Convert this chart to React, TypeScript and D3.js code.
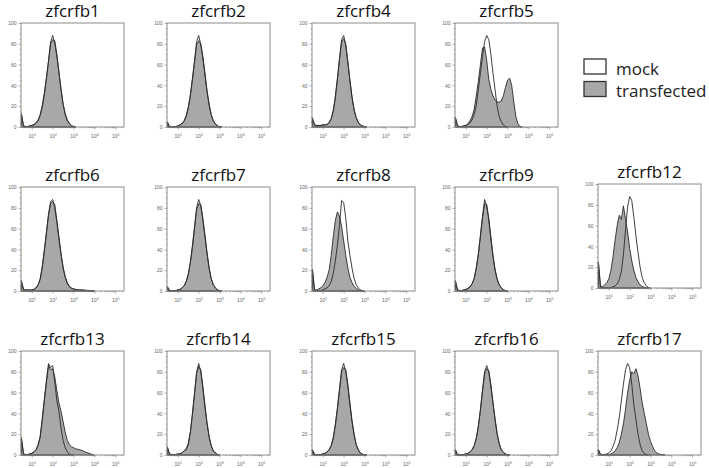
import React, { useEffect, useRef } from "react";
import * as d3 from "d3";

// histogram bins, log10 of fluorescence intensity
const binExponents = [0.5, 0.6, 0.7, 0.8, 0.9, 1.0, 1.1, 1.2, 1.3, 1.4, 1.5, 1.6, 1.7, 1.8, 1.9, 2.0, 2.1, 2.2, 2.3, 2.4, 2.5, 2.6, 2.7, 2.8, 2.9, 3.0, 3.1, 3.2, 3.3, 3.4, 3.5, 3.6, 3.7, 3.8, 3.9, 4.0];

// % of max, per bin (mock / transfected)
const mock1 = [13, 1, 0.5, 0.5, 1, 1.5, 2.5, 4, 7, 12, 21, 33, 48, 64, 82, 88, 80, 68, 52, 36, 22, 13, 7, 3.5, 1.5, 0.5, 0];
const trans1 = [12, 1, 0.5, 0.5, 1, 1.5, 2, 3.5, 6, 11, 19, 31, 46, 63, 80, 84, 83, 70, 53, 36, 22, 12, 6, 3, 1, 0.5, 0];
const mock2 = [5, 0.5, 0.3, 0.3, 0.5, 1, 2, 3.5, 6, 11, 19, 31, 47, 64, 82, 88, 79, 66, 50, 34, 21, 12, 6, 3, 1.2, 0.3, 0];
const trans2 = [4, 0.5, 0.3, 0.3, 0.5, 1, 2, 3, 5.5, 10, 18, 30, 45, 62, 79, 83, 80, 68, 52, 35, 22, 12, 6, 3, 1, 0.3, 0];
const mock4 = [9, 2, 1.5, 1.5, 1.5, 2, 2, 2.5, 4, 8, 16, 30, 47, 66, 84, 88, 78, 62, 44, 28, 16, 9, 4.5, 2, 1, 0.3, 0];
const trans4 = [8, 2, 1.5, 1.5, 1.5, 2, 2, 2.5, 4, 8, 15, 28, 46, 65, 82, 85, 80, 63, 45, 29, 17, 9, 4.5, 2, 1, 0.3, 0];
const mock5 = [9, 1, 0.5, 0.5, 1, 1.5, 2.5, 4, 7, 12, 21, 36, 52, 68, 82, 88, 84, 70, 52, 36, 20, 10, 5, 2, 0.5, 0];
const trans5 = [9, 1, 0.5, 0.5, 1, 1.5, 3, 6, 10, 17, 30, 44, 60, 76, 77, 64, 46, 36, 30, 26, 24, 24, 25, 30, 38, 45, 47, 40, 24, 10, 3, 0.5, 0];
const mock6 = [10, 1.5, 1, 1, 1, 1, 1.5, 3, 6, 12, 24, 40, 57, 74, 86, 88, 80, 66, 50, 35, 22, 13, 7, 4, 2.5, 2, 1.5, 1.2, 1, 1, 0.8, 0.6, 0.5, 0.3, 0.2, 0];
const trans6 = [9, 1.5, 1, 1, 1, 1, 1.5, 3, 6, 11, 22, 38, 55, 73, 84, 86, 83, 68, 52, 36, 23, 14, 8, 4.5, 3, 2, 1.5, 1.2, 1, 1, 0.8, 0.6, 0.5, 0.3, 0.2, 0];
const mock7 = [4, 0.5, 0.3, 0.3, 0.5, 1, 1.5, 3, 5, 9, 16, 28, 44, 62, 80, 88, 82, 68, 52, 36, 22, 12, 6, 3, 1.2, 0.3, 0];
const trans7 = [4, 0.5, 0.3, 0.3, 0.5, 1, 1.5, 3, 5, 9, 16, 27, 42, 60, 78, 84, 83, 70, 54, 37, 22, 12, 6, 3, 1, 0.3, 0];
const mock8 = [21, 1, 0.5, 0.5, 0.5, 1, 2, 3, 5, 9, 17, 29, 44, 64, 87, 85, 70, 48, 34, 22, 12, 6, 3, 1, 0.3, 0];
const trans8 = [21, 1, 1, 2, 3, 5, 8, 13, 20, 34, 52, 68, 76, 72, 62, 48, 34, 22, 13, 8, 4.5, 2.5, 1.2, 0.5, 0];
const mock9 = [10, 1, 0.5, 0.5, 1, 1.5, 2.5, 4, 7, 12, 22, 36, 54, 72, 88, 82, 68, 50, 33, 20, 11, 6, 3, 1.2, 0.4, 0];
const trans9 = [9, 1, 0.5, 0.5, 1, 1.5, 2.5, 4, 7, 12, 22, 35, 52, 70, 84, 83, 70, 52, 35, 21, 12, 6, 3, 1.2, 0.4, 0];
const mock12 = [25, 1, 0.5, 0.3, 0.3, 0.3, 0.5, 1, 2, 4, 8, 16, 32, 56, 78, 88, 84, 68, 50, 34, 20, 10, 5, 2, 0.5, 0];
const trans12 = [25, 1, 1.5, 3, 5, 9, 17, 30, 46, 60, 70, 66, 79, 66, 54, 38, 26, 17, 10, 6, 3, 1.5, 0.8, 0.3, 0];
const mock13 = [17, 1, 0.5, 0.5, 1, 1.5, 3, 5, 10, 18, 36, 54, 72, 88, 84, 86, 70, 52, 42, 26, 14, 7, 3, 1, 0.3, 0];
const trans13 = [16, 1, 0.5, 0.5, 1, 1.5, 3, 5, 9, 17, 33, 52, 70, 86, 82, 83, 75, 62, 50, 42, 32, 22, 14, 10, 8, 7, 6, 5.5, 5, 4.5, 3.5, 2.5, 2, 1.2, 0.5, 0];
const mock14 = [8, 1, 0.5, 0.5, 0.5, 1, 1, 2, 4, 5, 10, 22, 40, 60, 80, 88, 80, 64, 46, 30, 17, 9, 4, 2, 0.5, 0];
const trans14 = [7, 1, 0.5, 0.5, 0.5, 1, 1, 2, 4, 6, 11, 22, 39, 58, 78, 85, 82, 66, 48, 31, 18, 9, 4, 2, 0.5, 0];
const mock15 = [5, 0.5, 0.3, 0.3, 0.5, 1, 1.5, 3, 5, 9, 17, 30, 46, 64, 82, 88, 80, 66, 48, 32, 19, 10, 5, 2, 0.8, 0.2, 0];
const trans15 = [5, 0.5, 0.3, 0.3, 0.5, 1, 1.5, 3, 5, 9, 16, 28, 44, 62, 80, 84, 82, 68, 50, 33, 20, 10, 5, 2, 0.8, 0.2, 0];
const mock16 = [5, 0.5, 0.3, 0.3, 0.5, 1, 1.5, 3, 5, 9, 16, 28, 44, 63, 80, 86, 80, 66, 50, 34, 20, 11, 5, 2.5, 1, 0.3, 0];
const trans16 = [5, 0.5, 0.3, 0.3, 0.5, 1, 1.5, 3, 5, 9, 16, 27, 43, 61, 78, 83, 81, 68, 51, 35, 21, 11, 5, 2.5, 1, 0.3, 0];
const mock17 = [5, 0.5, 0.5, 0.5, 1, 2, 4, 8, 14, 24, 36, 52, 68, 82, 88, 84, 68, 48, 34, 20, 10, 4, 1.5, 0.5, 0];
const trans17 = [5, 0.5, 0.3, 0.3, 0.5, 0.5, 1, 2, 4, 7, 12, 20, 30, 44, 60, 72, 80, 78, 83, 76, 64, 50, 40, 30, 20, 13, 8, 4, 2, 1, 0.5, 0.3, 0];

const titles = ["zfcrfb1", "zfcrfb2", "zfcrfb4", "zfcrfb5", "zfcrfb6", "zfcrfb7", "zfcrfb8", "zfcrfb9", "zfcrfb12", "zfcrfb13", "zfcrfb14", "zfcrfb15", "zfcrfb16", "zfcrfb17"];
const mockSeries = [mock1, mock2, mock4, mock5, mock6, mock7, mock8, mock9, mock12, mock13, mock14, mock15, mock16, mock17];
const transSeries = [trans1, trans2, trans4, trans5, trans6, trans7, trans8, trans9, trans12, trans13, trans14, trans15, trans16, trans17];

const yTicks = [0, 20, 40, 60, 80, 100];
const xTickExponents = [1, 2, 3, 4, 5];
const legendLabels = ["mock", "transfected"];

const GRAY = "#a8a8a8";
const OUTLINE = "#2a2a2a";

export default function App() {
    const ref = useRef<SVGSVGElement>(null);

    useEffect(() => {
        const svg = d3.select(ref.current);
        svg.selectAll("*").remove();

        const colLeft = [21, 167, 312, 455, 598];
        const rowTop = [23, 187, 351];
        const w = 103;
        const h = 104;
        // [col, row] of each histogram
        const grid = [[0, 0], [1, 0], [2, 0], [3, 0], [0, 1], [1, 1], [2, 1], [3, 1], [4, 1], [0, 2], [1, 2], [2, 2], [3, 2], [4, 2]];

        const x = d3.scaleLog().domain([10 ** 0.48, 10 ** 5.42]).range([0, w]);
        const y = d3.scaleLinear().domain([0, 100]).range([h, 0]);

        const area = d3.area<number>()
            .x((d, j) => x(10 ** binExponents[j]))
            .y0(h)
            .y1(d => y(d));

        titles.forEach((title, i) => {
            const [c, r] = grid[i];
            const top = rowTop[r] + (c === 4 && r === 1 ? -3 : 0);
            const g = svg.append("g").attr("transform", `translate(${colLeft[c]},${top})`);

            g.append("rect").attr("width", w).attr("height", h).attr("fill", "#fff");

            g.append("path").datum(mockSeries[i]).attr("d", area).attr("fill", "#fff");
            g.append("path").datum(transSeries[i]).attr("d", area).attr("fill", GRAY);
            g.append("path").datum(mockSeries[i]).attr("d", area)
                .attr("fill", "none").attr("stroke", OUTLINE).attr("stroke-width", 0.9);
            g.append("path").datum(transSeries[i]).attr("d", area)
                .attr("fill", "none").attr("stroke", OUTLINE).attr("stroke-width", 0.9);

            g.append("rect").attr("width", w).attr("height", h)
                .attr("fill", "none").attr("stroke", "#8c8c8c").attr("stroke-width", 1);

            // y axis
            const yMinor = y.ticks(20).filter(t => !yTicks.includes(t));
            const yMinorG = g.append("g").call(d3.axisLeft(y).tickValues(yMinor).tickSize(1.2).tickFormat(() => ""));
            const yAxisG = g.append("g").call(d3.axisLeft(y).tickValues(yTicks).tickSize(2.5).tickPadding(2));
            [yMinorG, yAxisG].forEach(a => {
                a.select(".domain").remove();
                a.selectAll("line").attr("stroke", "#777").attr("stroke-width", 0.6);
            });
            yAxisG.selectAll("text")
                .attr("font-size", "5px").attr("fill", "#666")
                .attr("font-family", "Liberation Sans, Arial, sans-serif");

            // x axis with decade labels
            const xMinor = x.ticks().filter(t => !xTickExponents.map(e => 10 ** e).includes(t));
            const xMinorG = g.append("g").attr("transform", `translate(0,${h})`)
                .call(d3.axisBottom(x).tickValues(xMinor).tickSize(1.2).tickFormat(() => ""));
            const xAxisG = g.append("g").attr("transform", `translate(0,${h})`)
                .call(d3.axisBottom(x).tickValues(xTickExponents.map(e => 10 ** e)).tickSize(2.5).tickPadding(2).tickFormat(() => ""));
            [xMinorG, xAxisG].forEach(a => {
                a.select(".domain").remove();
                a.selectAll("line").attr("stroke", "#777").attr("stroke-width", 0.6);
            });
            xAxisG.selectAll<SVGTextElement, number>("text").each(function (d) {
                const t = d3.select(this);
                t.attr("font-size", "5px").attr("fill", "#666")
                    .attr("font-family", "Liberation Sans, Arial, sans-serif")
                    .attr("dy", "1.2em");
                t.append("tspan").text("10");
                t.append("tspan").attr("dy", "-0.45em").attr("font-size", "3.6px").text(String(Math.round(Math.log10(d))));
            });

            g.append("text")
                .attr("x", w / 2).attr("y", -6)
                .attr("text-anchor", "middle")
                .attr("font-family", "Open Sans, sans-serif")
                .attr("font-size", "17px").attr("fill", "#111")
                .text(title);
        });

        // legend
        const legend = svg.append("g").attr("transform", "translate(584,59)");
        legendLabels.forEach((label, i) => {
            const row = legend.append("g").attr("transform", `translate(0,${i * 22.5})`);
            row.append("rect").attr("width", 22).attr("height", 15)
                .attr("fill", i === 0 ? "#fff" : GRAY).attr("stroke", "#333").attr("stroke-width", 1.3);
            row.append("text").attr("x", 32).attr("y", 15.5)
                .attr("font-family", "Open Sans, sans-serif").attr("font-size", "17px").attr("fill", "#222")
                .text(label);
        });
    }, []);

    return (
        <svg ref={ref} width={709} height={468}
            style={{ position: "absolute", left: 0, top: 0, background: "#fff" }} />
    );
}
